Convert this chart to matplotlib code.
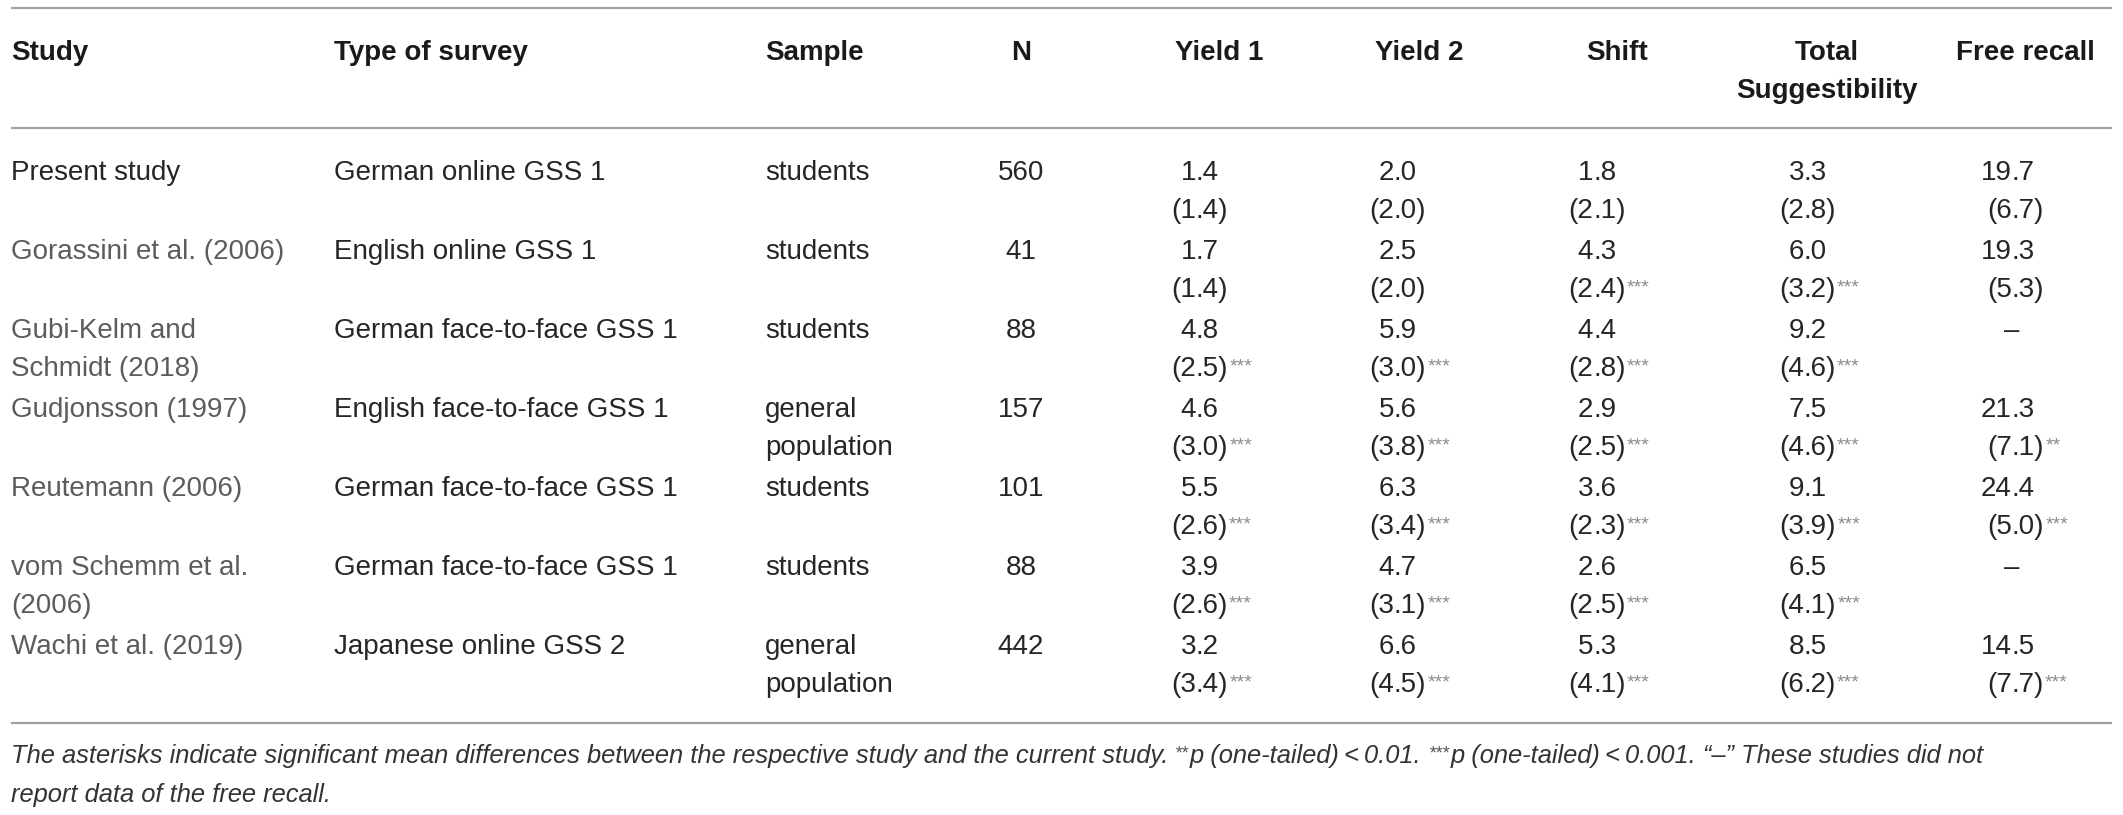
import matplotlib
matplotlib.use("Agg")
import matplotlib.pyplot as plt

# table content
studies = ["Present study", "Gorassini et al. (2006)", "Gubi-Kelm and\nSchmidt (2018)",
           "Gudjonsson (1997)", "Reutemann (2006)", "vom Schemm et al.\n(2006)",
           "Wachi et al. (2019)"]
survey_types = ["German online GSS 1", "English online GSS 1", "German face-to-face GSS 1",
                "English face-to-face GSS 1", "German face-to-face GSS 1",
                "German face-to-face GSS 1", "Japanese online GSS 2"]
samples = ["students", "students", "students", "general\npopulation", "students",
           "students", "general\npopulation"]
n_values = [560, 41, 88, 157, 101, 88, 442]

yield1_mean = [1.4, 1.7, 4.8, 4.6, 5.5, 3.9, 3.2]
yield1_sd = [1.4, 1.4, 2.5, 3.0, 2.6, 2.6, 3.4]
yield1_sig = ["", "", "***", "***", "***", "***", "***"]

yield2_mean = [2.0, 2.5, 5.9, 5.6, 6.3, 4.7, 6.6]
yield2_sd = [2.0, 2.0, 3.0, 3.8, 3.4, 3.1, 4.5]
yield2_sig = ["", "", "***", "***", "***", "***", "***"]

shift_mean = [1.8, 4.3, 4.4, 2.9, 3.6, 2.6, 5.3]
shift_sd = [2.1, 2.4, 2.8, 2.5, 2.3, 2.5, 4.1]
shift_sig = ["", "***", "***", "***", "***", "***", "***"]

total_mean = [3.3, 6.0, 9.2, 7.5, 9.1, 6.5, 8.5]
total_sd = [2.8, 3.2, 4.6, 4.6, 3.9, 4.1, 6.2]
total_sig = ["", "***", "***", "***", "***", "***", "***"]

recall_mean = [19.7, 19.3, None, 21.3, 24.4, None, 14.5]
recall_sd = [6.7, 5.3, None, 7.1, 5.0, None, 7.7]
recall_sig = ["", "", "", "**", "***", "", "***"]

headers = ["Study", "Type of survey", "Sample", "N", "Yield 1", "Yield 2", "Shift",
           "Total\nSuggestibility", "Free recall"]

# footnote pieces: (text, is_superscript)
footnote1 = [("The asterisks indicate significant mean differences between the respective study "
              "and the current study.", False),
             ("**", True),
             ("p (one-tailed)\u2009<\u20090.01.", False),
             ("***", True),
             ("p (one-tailed)\u2009<\u20090.001. \u201c\u2013\u201d These studies did not", False)]
footnote2 = "report data of the free recall."

plt.rcParams["font.family"] = ["Liberation Sans", "DejaVu Sans"]

W, H = 2123, 815
fig = plt.figure(figsize=(W / 100, H / 100), dpi=100)
ax = fig.add_axes([0, 0, 1, 1])
ax.set_xlim(0, W)
ax.set_ylim(H, 0)
ax.axis("off")

FS = 20
FS_NOTE = 18.4
LINE = 38
ROW0 = 180
PITCH = 79
TXT = "#262626"
GREY = "#5c5c5c"
STAR = "#8c8c8c"
RULE = "#a0a0a0"

col_left = [11, 334, 765]
n_center = 1021
hdr_center = [1021, 1219, 1419, 1617, 1827, 2025]
dec_x = [1196, 1394, 1593, 1804, 2012]   # left edge of the decimal point per stat column


def put_lines(x, y, s, **kw):
    for k, line in enumerate(s.split("\n")):
        ax.text(x, y + k * LINE, line, va="baseline", **kw)


def put_decimal(x, y, s):
    # decimal-aligned number, returns the right-hand text so marks can hang off it
    head, tail = s.split(".")
    ax.text(x, y, head, ha="right", va="baseline", fontsize=FS, color=TXT)
    return ax.text(x, y, "." + tail, ha="left", va="baseline", fontsize=FS, color=TXT)


# rules
for yy in [8, 128, 723]:
    ax.plot([11, 2112], [yy, yy], color=RULE, lw=1.6, solid_capstyle="butt")

# header
hdr_y = 60
for j, h in enumerate(headers):
    if j < 3:
        put_lines(col_left[j], hdr_y, h, ha="left", fontsize=FS, fontweight="bold", color="#1a1a1a")
    else:
        put_lines(hdr_center[j - 3], hdr_y, h, ha="center", fontsize=FS, fontweight="bold",
                  color="#1a1a1a")

# body
stat_cols = [(yield1_mean, yield1_sd, yield1_sig), (yield2_mean, yield2_sd, yield2_sig),
             (shift_mean, shift_sd, shift_sig), (total_mean, total_sd, total_sig),
             (recall_mean, recall_sd, recall_sig)]

for i in range(len(studies)):
    y = ROW0 + i * PITCH
    put_lines(col_left[0], y, studies[i], ha="left", fontsize=FS,
              color=TXT if i == 0 else GREY)
    put_lines(col_left[1], y, survey_types[i], ha="left", fontsize=FS, color=TXT)
    put_lines(col_left[2], y, samples[i], ha="left", fontsize=FS, color=TXT)
    ax.text(n_center, y, str(n_values[i]), ha="center", va="baseline", fontsize=FS, color=TXT)
    for c, (mean, sd, sig) in enumerate(stat_cols):
        xd = dec_x[c]
        if mean[i] is None:
            ax.text(xd, y, "\u2013", ha="center", va="baseline", fontsize=FS, color=TXT)
            continue
        put_decimal(xd, y, f"{mean[i]:.1f}")
        t = put_decimal(xd, y + LINE, f"({sd[i]:.1f})")
        if sig[i]:
            ax.annotate(sig[i], xy=(1.0, 1.0), xycoords=t, xytext=(0.5, -1.5),
                        textcoords="offset points", ha="left", va="top",
                        fontsize=14, color=STAR)

# footnote, first line built piece by piece so the superscripts sit right
prev = ax.text(11, 763, footnote1[0][0], ha="left", va="baseline", fontsize=FS_NOTE,
               style="italic", color="#333333")
base = prev
for txt, sup in footnote1[1:]:
    if sup:
        prev = ax.annotate(txt, xy=(1.0, 1.0), xycoords=prev, xytext=(5, -1),
                           textcoords="offset points", ha="left", va="top", fontsize=13,
                           style="italic", color="#555555")
    else:
        prev = ax.annotate(txt, xy=(1.0, 0.0), xycoords=(prev, base), xytext=(0.5, 0),
                           textcoords="offset points", ha="left", va="bottom",
                           fontsize=FS_NOTE, style="italic", color="#333333")
ax.text(11, 802, footnote2, ha="left", va="baseline", fontsize=FS_NOTE, style="italic",
        color="#333333")

fig.savefig("out.png", dpi=100)
